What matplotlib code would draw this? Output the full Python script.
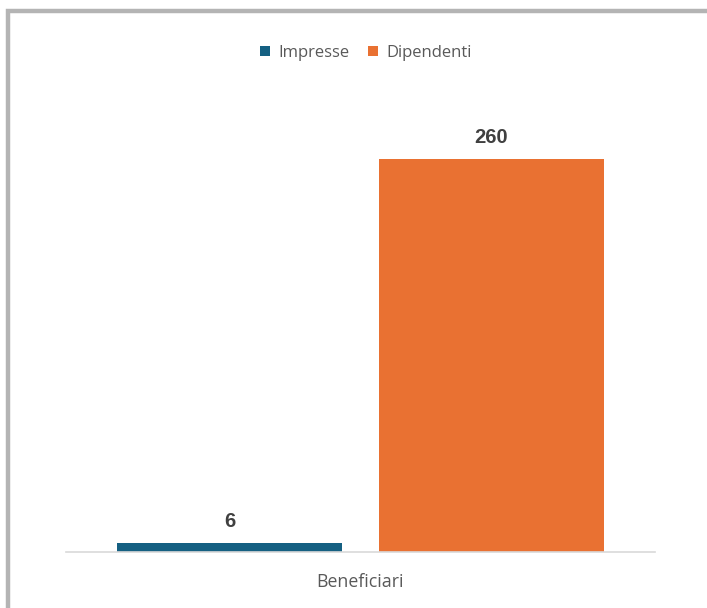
import matplotlib
matplotlib.use("Agg")
import matplotlib.pyplot as plt
from matplotlib.patches import Rectangle

categories = ["Beneficiari"]
series_names = ["Impresse", "Dipendenti"]
values = [6, 260]
colors = ["#156082", "#E97132"]

plt.rcParams['font.family'] = ['Open Sans', 'DejaVu Sans']

fig = plt.figure(figsize=(7.07, 6.08), dpi=100)
W, H = 707, 608

# outer frame (gray border on top and left)
fig.patches.append(Rectangle((8 / W, -0.1), 1.2, (608 - 11) / H + 0.1,
                             transform=fig.transFigure, fill=False,
                             edgecolor="#b4b4b4", linewidth=3.2, zorder=0))

ax = fig.add_axes([66 / W, (608 - 552) / H, 589 / W, 453.5 / H])
offsets = [-0.2, 0.2]
bar_w = 0.344
handles = []
for off, v, c, name in zip(offsets, values, colors, series_names):
    b = ax.bar(off, v, width=bar_w, color=c, label=name, zorder=2)
    handles.append(b)
    ax.text(off, v + 8, str(v), ha="center", va="bottom", fontsize=14.5,
            fontweight="bold", color="#404040", family=['Liberation Sans', 'DejaVu Sans'])

ax.set_xlim(-0.45, 0.45)
ax.set_ylim(0, 300)
ax.set_yticks([])
ax.set_xticks([0])
ax.set_xticklabels(categories, fontsize=12.8, color="#595959")
ax.tick_params(axis="x", length=0, pad=15)
for s in ["top", "right", "left"]:
    ax.spines[s].set_visible(False)
ax.spines["bottom"].set_color("#d9d9d9")
ax.spines["bottom"].set_linewidth(1.2)

fig.legend(handles=handles, labels=series_names, loc="center",
           bbox_to_anchor=(366 / W, 1 - 53 / H), ncol=2, frameon=False,
           fontsize=12, handlelength=0.6, handleheight=0.6, handletextpad=0.5,
           columnspacing=1.1, labelcolor="#595959")

fig.savefig("out.png", dpi=100, facecolor="white")
